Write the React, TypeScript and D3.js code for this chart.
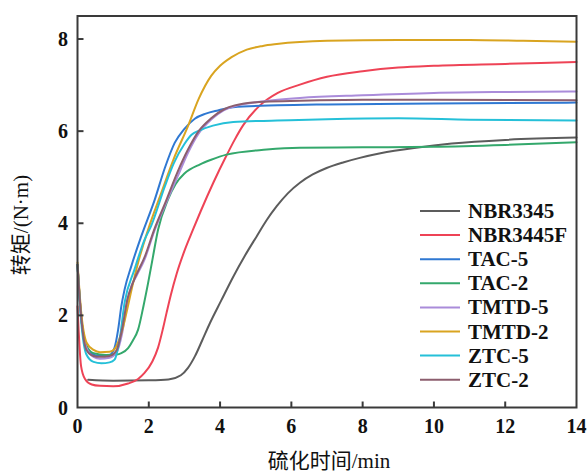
import * as d3 from 'd3'

type Pt = [number, number]

// time (min), torque (N·m)
const nbr3345: Pt[] = [
  [0.3, 0.6], [1.0, 0.58], [2.0, 0.59], [2.55, 0.61], [2.9, 0.7], [3.1, 0.86], [3.3, 1.12],
  [3.5, 1.46], [3.72, 1.84], [4.03, 2.32], [4.37, 2.84], [4.7, 3.3], [5.03, 3.72], [5.3, 4.06],
  [5.59, 4.37], [5.9, 4.65], [6.24, 4.88], [6.6, 5.06], [6.99, 5.2], [7.45, 5.32], [7.92, 5.42],
  [8.5, 5.52], [9.5, 5.64], [10.5, 5.73], [12, 5.81], [14, 5.86],
]
const nbr3445f: Pt[] = [
  [0, 2.2], [0.1, 0.9], [0.21, 0.62], [0.4, 0.5], [0.63, 0.47], [1.0, 0.46], [1.42, 0.52],
  [1.7, 0.62], [1.88, 0.75], [2.1, 1.0], [2.26, 1.3], [2.4, 1.72], [2.5, 2.06], [2.62, 2.45],
  [2.78, 2.9], [3.0, 3.4], [3.24, 3.86], [3.45, 4.25], [3.81, 4.88], [4.18, 5.47], [4.4, 5.8],
  [4.65, 6.13], [5.12, 6.56], [5.62, 6.83], [6.24, 7.01], [7, 7.18], [8, 7.3], [9, 7.38],
  [10, 7.42], [12, 7.46], [14, 7.5],
]
const tac5: Pt[] = [
  [0, 3.1], [0.1, 2.0], [0.2, 1.45], [0.35, 1.2], [0.6, 1.12], [0.9, 1.14], [1.04, 1.3],
  [1.14, 1.69], [1.23, 2.2], [1.32, 2.56], [1.51, 3.07], [1.79, 3.72], [2.17, 4.52], [2.45, 5.2],
  [2.73, 5.75], [3.0, 6.05], [3.29, 6.27], [3.6, 6.38], [3.94, 6.45], [4.37, 6.52], [5.62, 6.56],
  [7, 6.58], [10, 6.6], [14, 6.62],
]
const tac2: Pt[] = [
  [0, 3.1], [0.1, 2.0], [0.25, 1.35], [0.45, 1.18], [0.8, 1.14], [1.1, 1.15], [1.23, 1.18],
  [1.42, 1.29], [1.55, 1.45], [1.7, 1.69], [1.85, 2.2], [1.98, 2.7], [2.1, 3.2], [2.26, 3.86],
  [2.54, 4.52], [2.75, 4.85], [3.0, 5.08], [3.44, 5.28], [3.75, 5.38], [4.18, 5.49], [5.31, 5.6],
  [6.24, 5.64], [8, 5.65], [10, 5.66], [12, 5.7], [14, 5.76],
]
const tmtd5: Pt[] = [
  [0, 3.1], [0.1, 2.0], [0.25, 1.3], [0.45, 1.1], [0.63, 1.06], [0.9, 1.08], [1.1, 1.2],
  [1.25, 1.6], [1.4, 2.3], [1.51, 2.63], [1.65, 2.85], [1.88, 3.21], [2.17, 3.86], [2.45, 4.38],
  [2.8, 5.0], [3.1, 5.53], [3.4, 5.95], [3.75, 6.25], [4.1, 6.45], [4.41, 6.54], [5.25, 6.65],
  [6.24, 6.72], [8, 6.78], [10, 6.83], [12, 6.85], [14, 6.86],
]
const tmtd2: Pt[] = [
  [0, 3.15], [0.1, 2.1], [0.26, 1.4], [0.45, 1.25], [0.63, 1.2], [0.9, 1.21], [1.04, 1.27],
  [1.18, 1.5], [1.28, 1.75], [1.4, 2.15], [1.5, 2.5], [1.72, 3.2], [1.98, 3.86], [2.35, 4.66],
  [2.7, 5.4], [3.1, 6.11], [3.4, 6.7], [3.75, 7.2], [4.0, 7.42], [4.31, 7.6], [4.75, 7.77],
  [5.2, 7.85], [5.59, 7.89], [7, 7.96], [9, 7.98], [11, 7.98], [12.5, 7.96], [14, 7.94],
]
const ztc5: Pt[] = [
  [0, 3.1], [0.1, 1.9], [0.25, 1.15], [0.45, 0.99], [0.67, 0.96], [0.9, 0.98], [1.04, 1.04],
  [1.18, 1.47], [1.32, 2.27], [1.6, 3.0], [1.88, 3.64], [2.07, 3.95], [2.45, 4.8], [2.7, 5.3],
  [3.0, 5.72], [3.2, 5.92], [3.44, 6.02], [3.8, 6.12], [4.37, 6.2], [5.6, 6.23], [7, 6.26],
  [9, 6.28], [11, 6.25], [14, 6.23],
]
const ztc2: Pt[] = [
  [0, 3.1], [0.1, 2.0], [0.25, 1.25], [0.45, 1.12], [0.63, 1.1], [0.9, 1.12], [1.1, 1.25],
  [1.25, 1.7], [1.4, 2.35], [1.55, 2.7], [1.9, 3.3], [2.17, 3.9], [2.45, 4.42], [2.8, 5.1],
  [3.1, 5.6], [3.4, 6.0], [3.75, 6.28], [4.1, 6.47], [4.41, 6.56], [5.25, 6.64], [6.24, 6.66],
  [8, 6.68], [10, 6.68], [14, 6.67],
]

const seriesNames = ['NBR3345', 'NBR3445F', 'TAC-5', 'TAC-2', 'TMTD-5', 'TMTD-2', 'ZTC-5', 'ZTC-2']
const seriesData = [nbr3345, nbr3445f, tac5, tac2, tmtd5, tmtd2, ztc5, ztc2]
const seriesColors = ['#5c5c5c', '#ee4356', '#2f78d2', '#34a86c', '#aa8cda', '#d9a420', '#25c0d8', '#8c5e6e']

const xTicks = [0, 2, 4, 6, 8, 10, 12, 14]
const yTicks = [0, 2, 4, 6, 8]

const W = 587
const H = 473
const left = 77.5
const right = 576.5
const top = 16
const bottom = 407.5

const serif = "'Liberation Serif', 'Times New Roman', 'Noto Sans CJK SC', serif"

export default function App() {
  const x = d3.scaleLinear().domain([0, 14]).range([left, right])
  const y = d3.scaleLinear().domain([0, 8.5]).range([bottom, top])
  const line = d3
    .line<Pt>()
    .x((d) => x(d[0]))
    .y((d) => y(d[1]))
    .curve(d3.curveMonotoneX)

  const legendX = 420
  const legendY = 211
  const legendStep = 24.1

  return (
    <svg
      width={W}
      height={H}
      viewBox={`0 0 ${W} ${H}`}
      style={{ position: 'absolute', left: 0, top: 0, background: '#fff' }}
    >
      <g fill="none" strokeWidth={2} strokeLinejoin="round" strokeLinecap="round">
        {seriesData.map((d, i) => (
          <path key={seriesNames[i]} d={line(d) || ''} stroke={seriesColors[i]} />
        ))}
      </g>

      {/* frame */}
      <rect x={left} y={top} width={right - left} height={bottom - top} fill="none" stroke="#3a3a3a" strokeWidth={2} />

      {/* ticks, pointing inward */}
      <g stroke="#3a3a3a" strokeWidth={2}>
        {xTicks.slice(1, -1).map((t) => (
          <line key={'xt' + t} x1={x(t)} x2={x(t)} y1={bottom} y2={bottom - 6} />
        ))}
        {yTicks.slice(1).map((t) => (
          <line key={'yt' + t} x1={left} x2={left + 6} y1={y(t)} y2={y(t)} />
        ))}
      </g>

      <g fontFamily={serif} fontWeight="bold" fontSize={20} fill="#111">
        {xTicks.map((t) => (
          <text key={'xl' + t} x={x(t)} y={433} textAnchor="middle">
            {t}
          </text>
        ))}
        {yTicks.map((t) => (
          <text key={'yl' + t} x={68} y={y(t) + 7} textAnchor="end">
            {t}
          </text>
        ))}
      </g>

      <text x={329} y={468} textAnchor="middle" fontFamily={serif} fontSize={21} fill="#111">
        硫化时间/min
      </text>
      <text
        transform={`translate(28, 225) rotate(-90)`}
        textAnchor="middle"
        fontFamily={serif}
        fontSize={21}
        fill="#111"
      >
        转矩/(N·m)
      </text>

      <g>
        {seriesNames.map((n, i) => (
          <g key={'lg' + n} transform={`translate(${legendX}, ${legendY + i * legendStep})`}>
            <line x1={0} x2={40} y1={0} y2={0} stroke={seriesColors[i]} strokeWidth={2} />
            <text x={48} y={7} fontFamily={serif} fontWeight="bold" fontSize={21} fill="#111">
              {n}
            </text>
          </g>
        ))}
      </g>
    </svg>
  )
}
